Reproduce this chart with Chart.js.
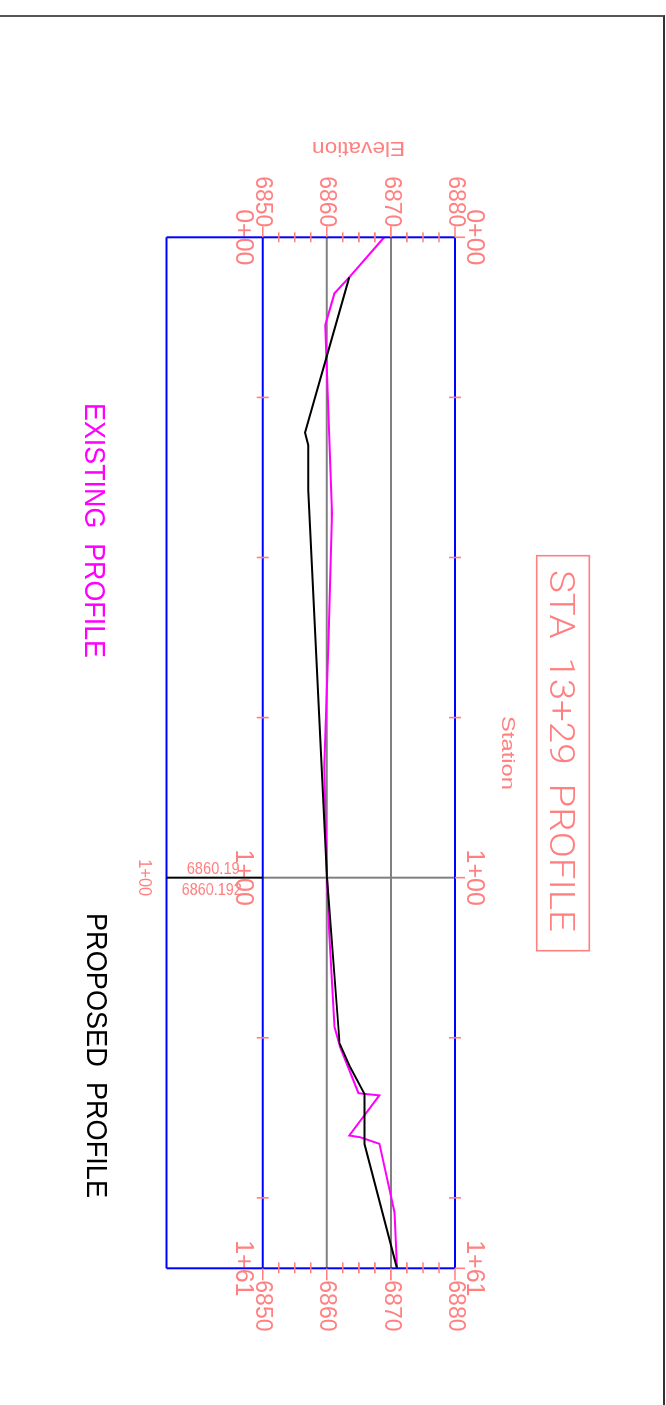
<!DOCTYPE html>
<html>
<head>
<meta charset="utf-8">
<script src="https://cdn.jsdelivr.net/npm/chart.js@4.4.0/dist/chart.umd.min.js"></script>
<style>
html, body { margin: 0; padding: 0; background: #fff; overflow: hidden; width: 666px; height: 1405px; }
#frame { position: absolute; left: -4px; top: 15px; width: 667px; height: 1400px; border-top: 2px solid #555; border-right: 2px solid #333; }
#sheet { position: absolute; left: 0; top: 0; width: 1405px; height: 666px; transform-origin: 0 0; transform: translate(666px, 0) rotate(90deg); }
</style>
</head>
<body>
<div id="frame"></div>
<div id="sheet"><canvas id="profile" width="1405" height="666"></canvas></div>
<script>
// stations (ft) and elevations (ft)
const existingSta  = [0, 6.25, 8.75, 13.7, 43.1, 63, 82.7, 100, 108.7, 123.3, 126.5, 133.66, 134.0, 140.27, 140.53, 141.56, 152.25, 153.03, 161];
const existingElev = [6868.95, 6863.5, 6861.2, 6859.75, 6860.8, 6860.25, 6859.6, 6860.05, 6860.4, 6861.2, 6862.1, 6864.94, 6868.2, 6863.5, 6865.2, 6868.2, 6870.56, 6870.6, 6870.94];
const proposedSta  = [6.25, 30.5, 32.45, 39.5, 100, 125.9, 129.5, 133.8, 141.6, 161];
const proposedElev = [6863.5, 6856.6, 6857.1, 6857.1, 6860.05, 6862.0, 6863.6, 6865.9, 6865.9, 6870.94];

const stationTicks = [0, 100, 161];
const stationMinor = [25, 50, 75, 125, 150];
const elevTicks = [6850, 6860, 6870, 6880];
const elevMinor = [6852.5, 6855, 6857.5, 6862.5, 6865, 6867.5, 6872.5, 6875, 6877.5];
const boxBottomElev = 6835;
const annoStation = 100;
const annoLabels = ['6860.19', '6860.192'];

const RED = '#ff8080';
const FONT = '"Liberation Sans", Arial, sans-serif';

const fmtSta = v => Math.floor(v / 100) + '+' + String(Math.round(v % 100)).padStart(2, '0');

function drawText(ctx, str, x, y, font, color, width, angle, align) {
    ctx.save();
    ctx.font = font;
    ctx.fillStyle = color;
    ctx.translate(x, y);
    if (angle) ctx.rotate(angle);
    const w = ctx.measureText(str).width;
    if (width) ctx.scale(width / w, 1);
    ctx.textAlign = align || 'left';
    ctx.textBaseline = 'alphabetic';
    ctx.fillText(str, 0, 0);
    ctx.restore();
}

function seg(ctx, x1, y1, x2, y2) {
    ctx.moveTo(x1, y1);
    ctx.lineTo(x2, y2);
}

const sheetPlugin = {
    id: 'sheet',
    beforeDatasetsDraw(chart) {
        const {ctx, chartArea: a, scales: {x, y}} = chart;
        ctx.save();
        ctx.strokeStyle = '#808080';
        ctx.lineWidth = 2;
        ctx.beginPath();
        elevTicks.slice(1, -1).forEach(e => {
            const py = y.getPixelForValue(e);
            seg(ctx, a.left, py, a.right, py);
        });
        stationTicks.slice(1, -1).forEach(s => {
            const px = x.getPixelForValue(s);
            seg(ctx, px, a.top, px, a.bottom);
        });
        ctx.stroke();
        ctx.restore();
    },
    afterDatasetsDraw(chart) {
        const {ctx, chartArea: a, scales: {x, y}} = chart;
        const yBox = y.getPixelForValue(boxBottomElev);
        const yLow = y.getPixelForValue(elevTicks[0]);
        const yHigh = y.getPixelForValue(elevTicks[elevTicks.length - 1]);
        ctx.save();

        // blue frame
        ctx.strokeStyle = '#0000ff';
        ctx.lineWidth = 2;
        ctx.beginPath();
        seg(ctx, a.left, yHigh, a.right, yHigh);
        seg(ctx, a.left, yLow, a.right, yLow);
        seg(ctx, a.left, yBox, a.right, yBox);
        seg(ctx, a.left, yHigh, a.left, yBox);
        seg(ctx, a.right, yHigh, a.right, yBox);
        ctx.stroke();

        // station callout
        const pa = x.getPixelForValue(annoStation);
        ctx.strokeStyle = '#000';
        ctx.beginPath();
        seg(ctx, pa, yLow, pa, yBox);
        ctx.stroke();

        // tick marks
        ctx.strokeStyle = RED;
        ctx.lineWidth = 1.6;
        ctx.beginPath();
        elevMinor.forEach(e => {
            const py = y.getPixelForValue(e);
            seg(ctx, a.left - 5, py, a.left + 5, py);
            seg(ctx, a.right - 6, py, a.right + 5, py);
        });
        elevTicks.forEach(e => {
            const py = y.getPixelForValue(e);
            seg(ctx, a.left - 11, py, a.left, py);
            seg(ctx, a.right, py, a.right + 12, py);
        });
        stationMinor.forEach(s => {
            const px = x.getPixelForValue(s);
            seg(ctx, px, yLow - 6, px, yLow + 6);
            seg(ctx, px, yHigh - 6, px, yHigh + 6);
        });
        stationTicks.forEach(s => {
            const px = x.getPixelForValue(s);
            seg(ctx, px, yHigh - 10, px, yHigh);
        });
        ctx.stroke();

        // title block
        ctx.lineWidth = 1.6;
        ctx.strokeRect(555.7, 76.7, 395, 52.6);
        drawText(ctx, 'STA  13+29  PROFILE', 570, 116, '300 35px Roboto, ' + FONT, RED, 362);

        // axis titles
        drawText(ctx, 'Station', 716, 164, '18px ' + FONT, RED, 74);
        drawText(ctx, 'Elevation', 142, 261, '21px ' + FONT, RED, 93, Math.PI / 2);

        // legend
        drawText(ctx, 'EXISTING  PROFILE', 403, 581, '29px ' + FONT, '#ff00ff', 255);
        drawText(ctx, 'PROPOSED  PROFILE', 913, 579, '29px ' + FONT, '#000000', 285);

        // callout labels
        drawText(ctx, fmtSta(annoStation), pa, yBox + 28, '18px ' + FONT, RED, 37, 0, 'center');
        drawText(ctx, annoLabels[0], pa - 4, yLow + 23, '17px ' + FONT, RED, 53, -Math.PI / 2, 'right');
        drawText(ctx, annoLabels[1], pa + 17, yLow + 21, '17px ' + FONT, RED, 60, -Math.PI / 2, 'right');

        ctx.restore();
    }
};

const stationFont = {family: FONT, size: 25};
const elevFont = {family: FONT, size: 23};

const stationAxis = (position, padding, size) => ({
    type: 'linear',
    axis: 'x',
    position: position,
    min: 0,
    max: 161,
    afterBuildTicks: s => { s.ticks = stationTicks.map(v => ({value: v})); },
    afterFit: s => { s.height = size; },
    ticks: {autoSkip: false, maxRotation: 0, minRotation: 0, padding: padding, color: RED, font: stationFont, callback: v => fmtSta(v)},
    grid: {display: false, drawTicks: false},
    border: {display: false}
});

const elevAxis = (position, padding, size) => ({
    type: 'linear',
    axis: 'y',
    position: position,
    min: 6850,
    max: 6880,
    afterBuildTicks: s => { s.ticks = elevTicks.map(v => ({value: v})); },
    afterFit: s => { s.width = size; },
    ticks: {padding: padding, color: RED, font: elevFont, callback: v => String(v)},
    grid: {display: false, drawTicks: false},
    border: {display: false}
});

new Chart(document.getElementById('profile'), {
    type: 'line',
    data: {
        datasets: [{
            label: 'PROPOSED PROFILE',
            data: proposedSta.map((s, i) => ({x: s, y: proposedElev[i]})),
            borderColor: '#000000',
            borderWidth: 2,
            pointRadius: 0,
            tension: 0,
            fill: false
        }, {
            label: 'EXISTING PROFILE',
            data: existingSta.map((s, i) => ({x: s, y: existingElev[i]})),
            borderColor: '#ff00ff',
            borderWidth: 2,
            pointRadius: 0,
            tension: 0,
            fill: false
        }]
    },
    options: {
        responsive: false,
        animation: false,
        events: [],
        layout: {padding: 0},
        plugins: {legend: {display: false}, tooltip: {enabled: false}},
        scales: {
            x: stationAxis('bottom', 5, 262.7),
            x2: stationAxis('top', 4, 211),
            y: elevAxis('left', 10, 237.3),
            y2: elevAxis('right', 12, 136.7)
        }
    },
    plugins: [sheetPlugin]
});
</script>
</body>
</html>
